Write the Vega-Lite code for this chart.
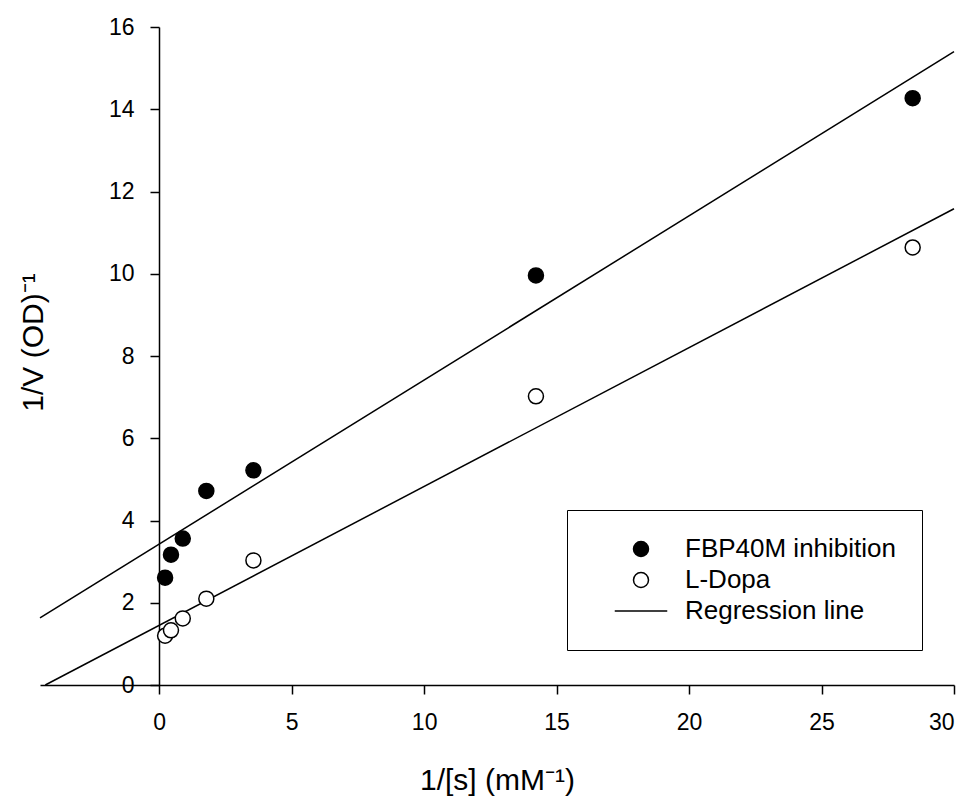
{
  "$schema": "https://vega.github.io/schema/vega-lite/v6.json",
  "autosize": "none",
  "width": 914,
  "height": 658,
  "padding": {"left": 40, "top": 27, "right": 19, "bottom": 114},
  "background": "white",
  "config": {
    "view": {"stroke": null},
    "font": "Liberation Sans",
    "axis": {
      "grid": false,
      "domainColor": "black",
      "domainWidth": 1.5,
      "tickColor": "black",
      "tickWidth": 1.5,
      "tickSize": 9,
      "labelColor": "black",
      "labelFont": "Liberation Sans",
      "labelFontSize": 23,
      "titleColor": "black",
      "titleFont": "Liberation Sans",
      "titleFontSize": 30,
      "titleFontWeight": "normal"
    },
    "legend": {
      "labelFont": "Liberation Sans",
      "labelFontSize": 26,
      "labelColor": "black",
      "labelLimit": 400
    }
  },
  "datasets": {
    "points": [
      {"inv_s": 0.222, "inv_v": 2.61, "series": "FBP40M inhibition"},
      {"inv_s": 0.444, "inv_v": 3.17, "series": "FBP40M inhibition"},
      {"inv_s": 0.889, "inv_v": 3.56, "series": "FBP40M inhibition"},
      {"inv_s": 1.778, "inv_v": 4.72, "series": "FBP40M inhibition"},
      {"inv_s": 3.556, "inv_v": 5.22, "series": "FBP40M inhibition"},
      {"inv_s": 14.22, "inv_v": 9.96, "series": "FBP40M inhibition"},
      {"inv_s": 28.44, "inv_v": 14.27, "series": "FBP40M inhibition"},
      {"inv_s": 0.222, "inv_v": 1.20, "series": "L-Dopa"},
      {"inv_s": 0.444, "inv_v": 1.33, "series": "L-Dopa"},
      {"inv_s": 0.889, "inv_v": 1.62, "series": "L-Dopa"},
      {"inv_s": 1.778, "inv_v": 2.10, "series": "L-Dopa"},
      {"inv_s": 3.556, "inv_v": 3.03, "series": "L-Dopa"},
      {"inv_s": 14.22, "inv_v": 7.02, "series": "L-Dopa"},
      {"inv_s": 28.44, "inv_v": 10.64, "series": "L-Dopa"}
    ],
    "fits": [
      {"inv_s": -4.5, "inv_v": 1.63, "fit": "FBP40M inhibition"},
      {"inv_s": 30, "inv_v": 15.40, "fit": "FBP40M inhibition"},
      {"inv_s": -4.3, "inv_v": 0, "fit": "L-Dopa"},
      {"inv_s": 30, "inv_v": 11.58, "fit": "L-Dopa"}
    ]
  },
  "layer": [
    {
      "data": {"name": "fits"},
      "mark": {"type": "line", "color": "black", "strokeWidth": 1.5},
      "encoding": {
        "x": {
          "field": "inv_s",
          "type": "quantitative",
          "scale": {"domain": [-4.5, 30], "nice": false, "zero": false},
          "axis": {
            "values": [0, 5, 10, 15, 20, 25, 30],
            "labelPadding": 17,
            "title": "1/[s] (mM⁻¹)",
            "titleBaseline": "alphabetic",
            "titleX": 457,
            "titleY": 104,
            "titleAnchor": null
          }
        },
        "y": {
          "field": "inv_v",
          "type": "quantitative",
          "scale": {"domain": [0, 16], "nice": false},
          "axis": {
            "values": [0, 2, 4, 6, 8, 10, 12, 14, 16],
            "offset": -119,
            "labelPadding": 16,
            "title": "1/V (OD)⁻¹",
            "titleAngle": 270,
            "titleAlign": "center",
            "titleBaseline": "middle",
            "titleX": -126,
            "titleY": 315
          }
        },
        "detail": {"field": "fit", "type": "nominal"}
      }
    },
    {
      "data": {"name": "points"},
      "mark": {"type": "point", "filled": true, "stroke": "black", "strokeWidth": 1.5, "size": 225, "opacity": 1},
      "encoding": {
        "x": {"field": "inv_s", "type": "quantitative"},
        "y": {"field": "inv_v", "type": "quantitative"},
        "fill": {
          "field": "series",
          "type": "nominal",
          "scale": {
            "domain": ["FBP40M inhibition", "L-Dopa", "Regression line"],
            "range": ["black", "white", "transparent"]
          },
          "legend": {
            "title": null,
            "orient": "none",
            "legendX": 527,
            "legendY": 483,
            "padding": 26,
            "symbolOffset": 35,
            "labelOffset": 31,
            "rowPadding": 5,
            "symbolSize": 225,
            "strokeColor": "black",
            "fillColor": "white",
            "encode": {
              "symbols": {
                "update": {
                  "stroke": {"value": "black"},
                  "strokeWidth": {"value": 1.5},
                  "opacity": {"value": 1}
                }
              }
            }
          }
        },
        "shape": {
          "field": "series",
          "type": "nominal",
          "scale": {
            "domain": ["FBP40M inhibition", "L-Dopa", "Regression line"],
            "range": ["circle", "circle", "M-3.5,0L3.5,0"]
          },
          "legend": {
            "title": null,
            "orient": "none",
            "legendX": 527,
            "legendY": 483,
            "padding": 26,
            "symbolOffset": 35,
            "labelOffset": 31,
            "rowPadding": 5,
            "symbolSize": 225,
            "strokeColor": "black",
            "fillColor": "white",
            "encode": {
              "symbols": {
                "update": {
                  "stroke": {"value": "black"},
                  "strokeWidth": {"value": 1.5},
                  "opacity": {"value": 1}
                }
              }
            }
          }
        }
      }
    }
  ]
}
